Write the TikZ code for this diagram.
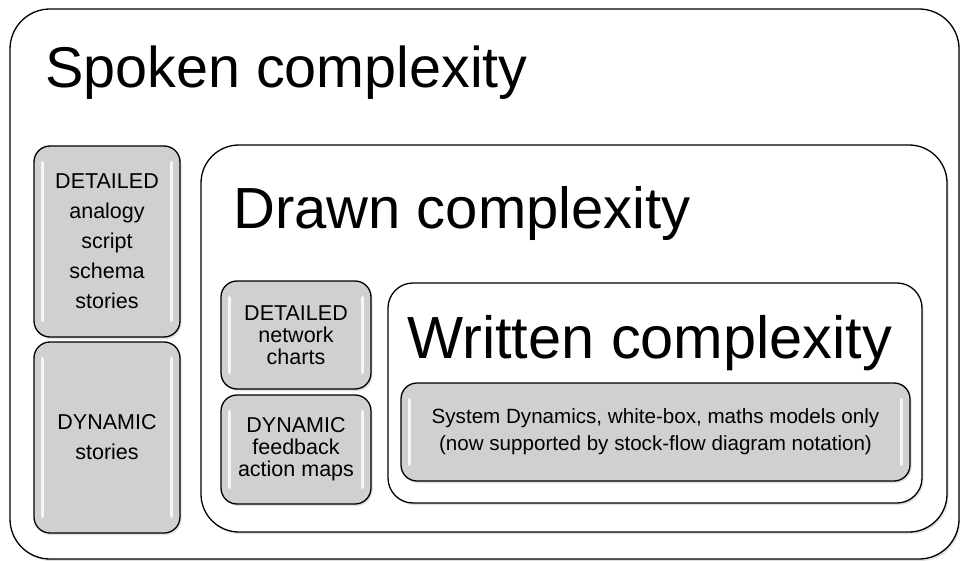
\documentclass[tikz,border=0pt]{standalone}
\usepackage{fontspec}
\setmainfont{Liberation Sans}
\usetikzlibrary{shadows}
\definecolor{kastengrau}{RGB}{208,208,208}
\begin{document}
\begin{tikzpicture}[x=1pt,y=-1pt,
  schatten/.style={drop shadow={shadow xshift=1.5pt,shadow yshift=-2pt,opacity=0.25}},
  rahmen/.style={draw=black,line width=1.3pt,fill=white,rounded corners=#1,schatten},
  kasten/.style={draw=black,line width=1.3pt,fill=kastengrau,rounded corners=16pt,schatten},
  titel/.style={anchor=base west,inner sep=0pt,font=\fontsize{#1}{60}\selectfont},
  titel/.default=57,
  weit/.style={align=center,font=\fontsize{21.5}{30}\selectfont},
  eng/.style={align=center,font=\fontsize{21.5}{22}\selectfont},
  mittel/.style={align=center,font=\fontsize{20.6}{27}\selectfont},
  glanz/.style={white,line width=3pt,line cap=round,opacity=0.85}]
\useasboundingbox (0,0) rectangle (960,561);
% Rahmen
\node[rahmen=40pt,minimum width=949pt,minimum height=550pt] (spoken) at (484.5,284) {};
\node[titel=57.5] (spokentitel) at (45,88) {Spoken complexity};
\node[rahmen=38pt,minimum width=746pt,minimum height=387pt] (drawn) at (574,338.5) {};
\node[titel=58] (drawntitel) at (233,229) {Drawn complexity};
\node[rahmen=25pt,minimum width=534pt,minimum height=220pt] (written) at (655,393) {};
\node[titel=59.5] (writtentitel) at (407,358) {Written complexity};
% Kaesten
\node[kasten,weit,minimum width=146pt,minimum height=191pt] (spokendet) at (107,241.5)
  {DETAILED\\analogy\\script\\schema\\stories};
\node[kasten,weit,minimum width=146pt,minimum height=191pt] (spokendyn) at (107,437.5)
  {DYNAMIC\\stories};
\node[kasten,eng,minimum width=150pt,minimum height=108pt] (drawndet) at (296,335)
  {DETAILED\\network\\charts};
\node[kasten,eng,minimum width=150pt,minimum height=109pt] (drawndyn) at (296,449.5)
  {DYNAMIC\\feedback\\action maps};
\node[kasten,mittel,minimum width=509pt,minimum height=98pt] (writtensd) at (655.5,432)
  {System Dynamics, white-box, maths models only\\(now supported by stock-flow diagram notation)};
% Glanzlichter
\foreach \k in {spokendet,spokendyn,drawndet,drawndyn,writtensd} {
  \draw[glanz] ([xshift=9pt,yshift=-17pt]\k.north west) -- ([xshift=9pt,yshift=17pt]\k.south west);
  \draw[glanz] ([xshift=-9pt,yshift=-17pt]\k.north east) -- ([xshift=-9pt,yshift=17pt]\k.south east);
}
\end{tikzpicture}
\end{document}
